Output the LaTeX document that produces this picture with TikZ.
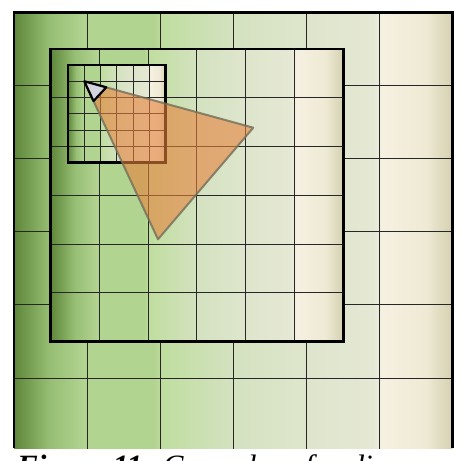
\documentclass[tikz,border=0pt]{standalone}
\usepackage{fontspec}
\setmainfont{Liberation Serif}
\usetikzlibrary{calc}
\definecolor{leafdark}{RGB}{95,135,60}
\definecolor{leafmid}{RGB}{150,190,115}
\definecolor{leaflight}{RGB}{178,212,145}
\definecolor{leafpale}{RGB}{192,222,160}
\definecolor{sagepale}{RGB}{212,226,192}
\definecolor{sagelight}{RGB}{222,229,204}
\definecolor{sagecream}{RGB}{229,232,212}
\definecolor{cream}{RGB}{246,240,225}
\definecolor{creamdark}{RGB}{238,234,212}
\definecolor{rimdark}{RGB}{212,208,176}
\definecolor{conefill}{RGB}{230,130,60}
\definecolor{coneedge}{RGB}{115,110,90}
\definecolor{tipfill}{RGB}{212,212,222}
\pgfdeclarehorizontalshading{greenfade}{100bp}{color(0bp)=(leafdark); color(25bp)=(leafdark);
  color(29bp)=(leafmid); color(33bp)=(leaflight); color(41bp)=(leaflight); color(42bp)=(leafpale);
  color(50bp)=(sagepale); color(58bp)=(sagelight); color(66bp)=(sagecream); color(67bp)=(cream);
  color(72bp)=(creamdark); color(75bp)=(rimdark); color(100bp)=(rimdark)}

\begin{document}
\begin{tikzpicture}[x=1pt,y=-1pt,
  gridline/.style={line width=0.9pt, draw=black!85},
  frame/.style={line width=2.6pt, draw=black}]
\useasboundingbox (0,0) rectangle (468,460);
\fill[white] (0,0) rectangle (468,460);

% outer cascade
\begin{scope}
  \clip (14,12.5) rectangle (452.6,448);
  \shade[shading=greenfade] (14,12.5) rectangle (452.6,451.1);
  \foreach \i in {1,...,5} {
    \draw[gridline] ({14+73.1*\i},12.5) -- ({14+73.1*\i},451.1);
    \draw[gridline] (14,{12.5+73.1*\i}) -- (452.6,{12.5+73.1*\i});
  }
\end{scope}
\draw[frame] (14,448) -- (14,12.5) -- (452.6,12.5) -- (452.6,448);

% middle cascade
\shade[shading=greenfade] (50.6,49) rectangle (343.2,341.6);
\foreach \i in {1,...,5} {
  \draw[gridline] ({50.6+48.77*\i},49) -- ({50.6+48.77*\i},341.6);
  \draw[gridline] (50.6,{49+48.77*\i}) -- (343.2,{49+48.77*\i});
}
\draw[frame] (50.6,49) rectangle (343.2,341.6);

% inner cascade
\shade[shading=greenfade] (68,65) rectangle (165.6,162.6);
\foreach \i in {1,...,5} {
  \draw[gridline] ({68+16.27*\i},65) -- ({68+16.27*\i},162.6);
  \draw[gridline] (68,{65+16.27*\i}) -- (165.6,{65+16.27*\i});
}
\draw[frame] (68,65) rectangle (165.6,162.6);

% cone of rays
\coordinate (apex) at (84.3,81.3);
\coordinate (right) at (253.3,127.7);
\coordinate (bottom) at (158,239.3);
\draw[fill=conefill, fill opacity=0.6, draw=coneedge, draw opacity=0.8, line width=2pt, line join=round]
  (apex) -- (right) -- (bottom) -- cycle;
\coordinate (tipright) at ($(apex)!0.13!(right)$);
\coordinate (tipbottom) at ($(apex)!0.125!(bottom)$);
\draw[fill=tipfill, line width=2.2pt, line join=round] (apex) -- (tipright) -- (tipbottom) -- cycle;

\node[anchor=base west, inner sep=0pt, font=\fontsize{31}{38}\selectfont] (caption) at (17,476)
  {\textbf{\textit{Figure 11:}} \textit{Cascades of radiance}};
\end{tikzpicture}
\end{document}
